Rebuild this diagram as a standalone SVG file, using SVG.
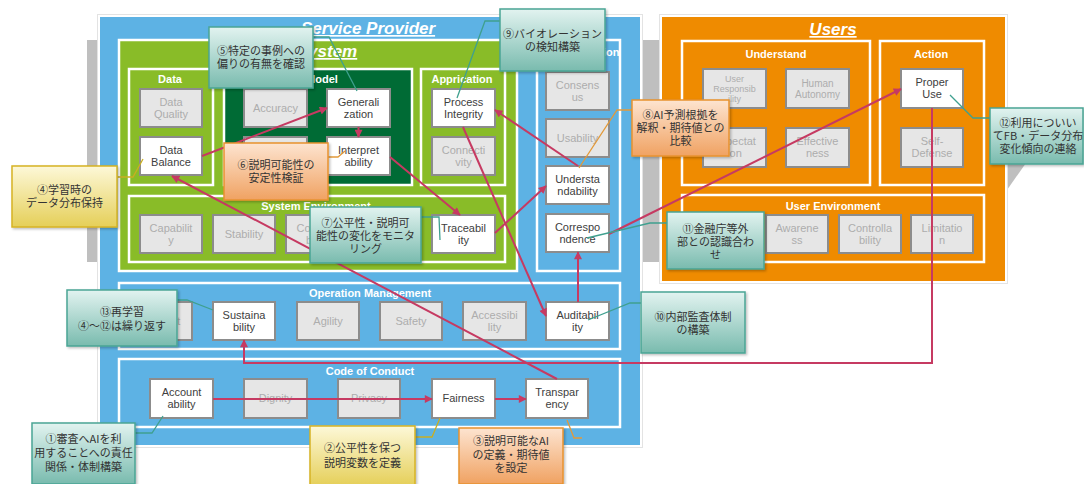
<svg xmlns="http://www.w3.org/2000/svg" width="1084" height="484" viewBox="0 0 1084 484">
<defs>
<style>
text{font-family:"Liberation Sans","Noto Sans CJK JP",sans-serif;}
.gb{fill:#e6e6e6;stroke:#8c8c8c;stroke-width:2}
.wb{fill:#fff;stroke:#8c8c8c;stroke-width:2}
.gt{font-size:11px;fill:#adadad;text-anchor:middle}
.wt{font-size:11px;fill:#404040;text-anchor:middle}
.ut{font-size:10px}
.ct{stroke:#fff;stroke-width:2.5}
.ttl{font-size:11px;font-weight:bold;fill:#fff;text-anchor:middle}
.big{font-size:17px;font-weight:bold;font-style:italic;fill:#fff;text-anchor:middle;text-decoration:underline}
.conn{stroke:#c63a62;stroke-width:2;fill:none;marker-end:url(#ah)}
.cT{fill:url(#gT);stroke:#4aa595;stroke-width:1.5;filter:url(#sh)}
.cO{fill:url(#gO);stroke:#e8922f;stroke-width:1.5;filter:url(#sh)}
.cY{fill:url(#gY);stroke:#d6b324;stroke-width:1.5;filter:url(#sh)}
.cx{font-size:11px;fill:#333;text-anchor:middle;font-family:"Noto Sans CJK JP","Liberation Sans",sans-serif}
.lT{stroke:#3fa08f;stroke-width:1.3;fill:none}
.lO{stroke:#e39a3a;stroke-width:1.3;fill:none}
.lY{stroke:#c9ae22;stroke-width:1.3;fill:none}
</style>
<marker id="ah" viewBox="0 0 10 10" refX="9" refY="5" markerWidth="9" markerHeight="8" markerUnits="userSpaceOnUse" orient="auto"><path d="M0,0 L10,5 L0,10 z" fill="#c63a62"/></marker>
<linearGradient id="gT" x1="0" y1="0" x2="0" y2="1"><stop offset="0" stop-color="#e2f3f0"/><stop offset="1" stop-color="#79bbae"/></linearGradient>
<linearGradient id="gO" x1="0" y1="0" x2="0" y2="1"><stop offset="0" stop-color="#fde4d0"/><stop offset="1" stop-color="#f0a262"/></linearGradient>
<linearGradient id="gY" x1="0" y1="0" x2="0" y2="1"><stop offset="0" stop-color="#fdf8d8"/><stop offset="1" stop-color="#e5cf58"/></linearGradient>
<filter id="sh" x="-10%" y="-10%" width="130%" height="130%"><feDropShadow dx="1.5" dy="1.5" stdDeviation="1.2" flood-color="#000" flood-opacity="0.25"/></filter>
</defs>
<rect width="1084" height="484" fill="#fff"/>

<!-- shelves -->
<rect x="87" y="40" width="10" height="222" fill="#bfbfbf"/>
<rect x="643" y="40" width="16" height="222" fill="#bfbfbf"/>
<polygon points="1007,163 1026,163 1007,190" fill="#bfbfbf"/>

<!-- Service Provider -->
<g id="service-provider">
<rect x="97.5" y="14.5" width="545" height="433" fill="#fff" stroke="#e3e3e3"/>
<rect x="100" y="17" width="540" height="428" fill="#5db2e4"/>
<text class="big" x="368" y="34">Service Provider</text>
</g>
<g id="system">
<rect x="119" y="40" width="398" height="231" fill="#89bc28" class="ct"/>
<text class="big" x="327" y="57">System</text>
</g>
<g id="data"><rect x="129" y="69" width="84" height="116" fill="none" class="ct"/><text class="ttl" x="170" y="83">Data</text></g>
<g id="model"><rect x="224" y="69" width="188" height="116" fill="#006b35" class="ct"/><text class="ttl" x="322" y="83">Model</text></g>
<g id="application"><rect x="421" y="69" width="84" height="116" fill="none" class="ct"/><text class="ttl" x="462" y="83">Apprication</text></g>
<g id="system-environment"><rect x="129" y="196" width="376" height="66" fill="none" class="ct"/><text class="ttl" x="316" y="210">System Environment</text></g>
<g id="communication"><rect x="537" y="40" width="83" height="231" fill="#5db2e4" class="ct"/><text class="ttl" x="578" y="56">Communication</text></g>
<g id="operation-management"><rect x="119" y="283" width="501" height="66" fill="none" class="ct"/><text class="ttl" x="370" y="297">Operation Management</text></g>
<g id="code-of-conduct"><rect x="119" y="359" width="501" height="68" fill="none" class="ct"/><text class="ttl" x="370" y="375">Code of Conduct</text></g>

<!-- Users -->
<g id="users">
<rect x="659.5" y="14.5" width="348" height="269" fill="#fff" stroke="#e3e3e3"/>
<rect x="662" y="17" width="343" height="264" fill="#ef8b00"/>
<text class="big" x="833" y="35">Users</text>
</g>
<g id="understand"><rect x="682" y="41" width="188" height="144" fill="none" class="ct"/><text class="ttl" x="776" y="58">Understand</text></g>
<g id="action"><rect x="880" y="41" width="104" height="144" fill="none" class="ct"/><text class="ttl" x="931" y="58">Action</text></g>
<g id="user-environment"><rect x="682" y="195" width="302" height="67" fill="none" class="ct"/><text class="ttl" x="833" y="210">User Environment</text></g>

<!-- Data nodes -->
<g id="data-quality"><rect class="gb" x="140" y="89" width="62" height="38"/><text class="gt"><tspan x="171" y="106">Data</tspan><tspan x="171" y="118">Quality</tspan></text></g>
<g id="data-balance"><rect class="wb" x="140" y="137" width="62" height="38"/><text class="wt"><tspan x="171" y="154">Data</tspan><tspan x="171" y="166">Balance</tspan></text></g>
<g id="accuracy"><rect class="gb" x="244" y="89" width="63" height="38"/><text class="gt" x="275.5" y="112">Accuracy</text></g>
<g id="model-hidden"><rect class="gb" x="244" y="137" width="63" height="38"/></g>
<g id="generalization"><rect class="wb" x="327" y="89" width="63" height="38"/><text class="wt"><tspan x="358.5" y="106">Generali</tspan><tspan x="358.5" y="118">zation</tspan></text></g>
<g id="interpretability"><rect class="wb" x="327" y="137" width="63" height="38"/><text class="wt"><tspan x="358.5" y="154">Interpret</tspan><tspan x="358.5" y="166">ability</tspan></text></g>
<g id="process-integrity"><rect class="wb" x="432" y="89" width="63" height="38"/><text class="wt"><tspan x="463.5" y="106">Process</tspan><tspan x="463.5" y="118">Integrity</tspan></text></g>
<g id="connectivity"><rect class="gb" x="432" y="137" width="63" height="38"/><text class="gt"><tspan x="463.5" y="154">Connecti</tspan><tspan x="463.5" y="166">vity</tspan></text></g>
<g id="capability"><rect class="gb" x="140" y="215" width="62" height="38"/><text class="gt"><tspan x="171" y="232">Capabilit</tspan><tspan x="171" y="244">y</tspan></text></g>
<g id="stability"><rect class="gb" x="213" y="215" width="62" height="38"/><text class="gt" x="244" y="238">Stability</text></g>
<g id="compatibility"><rect class="gb" x="286" y="215" width="62" height="38"/><text class="gt"><tspan x="317" y="232">Compati</tspan><tspan x="317" y="244">bility</tspan></text></g>
<g id="traceability"><rect class="wb" x="432" y="215" width="63" height="38"/><text class="wt"><tspan x="463.5" y="232">Traceabil</tspan><tspan x="463.5" y="244">ity</tspan></text></g>
<g id="consensus"><rect class="gb" x="546" y="72" width="63" height="38"/><text class="gt"><tspan x="577.5" y="89">Consens</tspan><tspan x="577.5" y="101">us</tspan></text></g>
<g id="usability"><rect class="gb" x="546" y="119" width="63" height="38"/><text class="gt" x="577.5" y="142">Usability</text></g>
<g id="understandability"><rect class="wb" x="546" y="166" width="63" height="38"/><text class="wt"><tspan x="577.5" y="183">Understa</tspan><tspan x="577.5" y="195">ndability</tspan></text></g>
<g id="correspondence"><rect class="wb" x="546" y="214" width="63" height="38"/><text class="wt"><tspan x="577.5" y="231">Correspo</tspan><tspan x="577.5" y="243">ndence</tspan></text></g>

<!-- Operation Management nodes -->
<g id="support"><rect class="gb" x="130" y="302" width="62" height="38"/><text class="gt" x="161" y="325">Support</text></g>
<g id="sustainability"><rect class="wb" x="213" y="302" width="62" height="38"/><text class="wt"><tspan x="244" y="319">Sustaina</tspan><tspan x="244" y="331">bility</tspan></text></g>
<g id="agility"><rect class="gb" x="297" y="302" width="62" height="38"/><text class="gt" x="328" y="325">Agility</text></g>
<g id="safety"><rect class="gb" x="380" y="302" width="62" height="38"/><text class="gt" x="411" y="325">Safety</text></g>
<g id="accessibility"><rect class="gb" x="463" y="302" width="63" height="38"/><text class="gt"><tspan x="494.5" y="319">Accessibi</tspan><tspan x="494.5" y="331">lity</tspan></text></g>
<g id="auditability"><rect class="wb" x="546" y="302" width="63" height="38"/><text class="wt"><tspan x="577.5" y="319">Auditabil</tspan><tspan x="577.5" y="331">ity</tspan></text></g>

<!-- Code of Conduct nodes -->
<g id="accountability"><rect class="wb" x="150" y="379" width="63" height="39"/><text class="wt"><tspan x="181.5" y="396">Account</tspan><tspan x="181.5" y="408">ability</tspan></text></g>
<g id="dignity"><rect class="gb" x="244" y="379" width="63" height="39"/><text class="gt" x="275.5" y="402">Dignity</text></g>
<g id="privacy"><rect class="gb" x="338" y="379" width="62" height="39"/><text class="gt" x="369" y="402">Privacy</text></g>
<g id="fairness"><rect class="wb" x="432" y="379" width="63" height="39"/><text class="wt" x="463.5" y="402">Fairness</text></g>
<g id="transparency"><rect class="wb" x="526" y="379" width="62" height="39"/><text class="wt"><tspan x="557" y="396">Transpar</tspan><tspan x="557" y="408">ency</tspan></text></g>

<!-- Users nodes -->
<g id="user-responsibility"><rect class="gb" x="703" y="69" width="63" height="39"/><text class="gt" style="font-size:9px"><tspan x="734.5" y="82">User</tspan><tspan x="734.5" y="92">Responsib</tspan><tspan x="734.5" y="102">ility</tspan></text></g>
<g id="human-autonomy"><rect class="gb" x="786" y="69" width="63" height="39"/><text class="gt ut"><tspan x="817.5" y="87">Human</tspan><tspan x="817.5" y="98">Autonomy</tspan></text></g>
<g id="expectation"><rect class="gb" x="703" y="128" width="63" height="39"/><text class="gt"><tspan x="734.5" y="145">Expectat</tspan><tspan x="734.5" y="157">ion</tspan></text></g>
<g id="effectiveness"><rect class="gb" x="786" y="128" width="63" height="39"/><text class="gt"><tspan x="817.5" y="145">Effective</tspan><tspan x="817.5" y="157">ness</tspan></text></g>
<g id="proper-use"><rect class="wb" x="901" y="69" width="62" height="39"/><text class="wt"><tspan x="932" y="86">Proper</tspan><tspan x="932" y="98">Use</tspan></text></g>
<g id="self-defense"><rect class="gb" x="901" y="128" width="62" height="39"/><text class="gt"><tspan x="932" y="145">Self-</tspan><tspan x="932" y="157">Defense</tspan></text></g>
<g id="user-env-hidden"><rect class="gb" x="694" y="215" width="62" height="38"/></g>
<g id="awareness"><rect class="gb" x="766" y="215" width="62" height="38"/><text class="gt"><tspan x="797" y="232">Awarene</tspan><tspan x="797" y="244">ss</tspan></text></g>
<g id="controllability"><rect class="gb" x="839" y="215" width="62" height="38"/><text class="gt"><tspan x="870" y="232">Controlla</tspan><tspan x="870" y="244">bility</tspan></text></g>
<g id="limitation"><rect class="gb" x="911" y="215" width="62" height="38"/><text class="gt"><tspan x="942" y="232">Limitatio</tspan><tspan x="942" y="244">n</tspan></text></g>

<!-- connectors -->
<g id="connectors">
<path class="conn" d="M213,399 H432"/>
<path class="conn" d="M495,399 H526"/>
<path class="conn" d="M557,379 L172,176"/>
<path class="conn" d="M202,156 L327,108"/>
<path class="conn" d="M358.5,127 V137"/>
<path class="conn" d="M390,157 L460,215"/>
<path class="conn" d="M495,233 L546,186"/>
<path class="conn" d="M578,166 L495,110"/>
<path class="conn" d="M463,127 L546,316"/>
<path class="conn" d="M578,302 V252"/>
<path class="conn" d="M609,234 L901,89"/>
<path class="conn" d="M932,108 V363 H244 V340"/>
</g>

<!-- callout leaders -->
<g id="leaders">
<polyline class="lT" points="313,37 329,37 357,91"/>
<polyline class="lT" points="500,21 485,21 457,98"/>
<polyline class="lO" points="632,110 617,110 579,168"/>
<polyline class="lO" points="328,157 338,157 345,151"/>
<polyline class="lY" points="117,177 133,177 143,159"/>
<polyline class="lT" points="421,217 439,217 440,240"/>
<polyline class="lT" points="667,223 650,223 587,238"/>
<polyline class="lT" points="641,303 630,303 588,320"/>
<polyline class="lT" points="990,118 973,118 950,95"/>
<polyline class="lT" points="177,300 187,300 213,310"/>
<polyline class="lT" points="135,433 152,433 163,416"/>
<polyline class="lY" points="415,437 432,437 440,418"/>
<polyline class="lO" points="567,420 574,438 582,438"/>
</g>

<!-- callouts -->
<g id="note5"><rect class="cT" x="209" y="27" width="104" height="61"/><text class="cx"><tspan x="261" y="55">⑤特定の事例への</tspan><tspan x="261" y="68">偏りの有無を確認</tspan></text></g>
<g id="note9"><rect class="cT" x="500" y="9" width="105" height="62"/><text class="cx"><tspan x="552.5" y="38">⑨バイオレーション</tspan><tspan x="552.5" y="51">の検知構築</tspan></text></g>
<g id="note8"><rect class="cO" x="632" y="100" width="97" height="56"/><text class="cx"><tspan x="680.5" y="119">⑧AI予測根拠を</tspan><tspan x="680.5" y="132">解釈・期待値との</tspan><tspan x="680.5" y="145">比較</tspan></text></g>
<g id="note6"><rect class="cO" x="224" y="143" width="104" height="57"/><text class="cx"><tspan x="276" y="169">⑥説明可能性の</tspan><tspan x="276" y="182">安定性検証</tspan></text></g>
<g id="note4"><rect class="cY" x="12" y="166" width="105" height="61"/><text class="cx"><tspan x="64.5" y="194">④学習時の</tspan><tspan x="64.5" y="207">データ分布保持</tspan></text></g>
<g id="note7"><rect class="cT" x="310" y="207" width="111" height="56"/><text class="cx"><tspan x="365.5" y="227">⑦公平性・説明可</tspan><tspan x="365.5" y="240">能性の変化をモニタ</tspan><tspan x="365.5" y="253">リング</tspan></text></g>
<g id="note11"><rect class="cT" x="667" y="212" width="97" height="57"/><text class="cx"><tspan x="715.5" y="233">⑪金融庁等外</tspan><tspan x="715.5" y="246">部との認識合わ</tspan><tspan x="715.5" y="259">せ</tspan></text></g>
<g id="note10"><rect class="cT" x="641" y="292" width="104" height="61"/><text class="cx"><tspan x="693" y="321">⑩内部監査体制</tspan><tspan x="693" y="334">の構築</tspan></text></g>
<g id="note12"><rect class="cT" x="990" y="108" width="93" height="56"/><text class="cx"><tspan x="1038" y="127">⑫利用についい</tspan><tspan x="1038" y="140">てFB・データ分布</tspan><tspan x="1038" y="153">変化傾向の連絡</tspan></text></g>
<g id="note13"><rect class="cT" x="67" y="290" width="110" height="56"/><text class="cx"><tspan x="122" y="316">⑬再学習</tspan><tspan x="122" y="330">④～⑫は繰り返す</tspan></text></g>
<g id="note1"><rect class="cT" x="32" y="423" width="103" height="61"/><text class="cx"><tspan x="83.5" y="443">①審査へAIを利</tspan><tspan x="83.5" y="457">用することへの責任</tspan><tspan x="83.5" y="471">関係・体制構築</tspan></text></g>
<g id="note2"><rect class="cY" x="310" y="426" width="105" height="60"/><text class="cx"><tspan x="362.5" y="452">②公平性を保つ</tspan><tspan x="362.5" y="467">説明変数を定義</tspan></text></g>
<g id="note3"><rect class="cO" x="459" y="428" width="104" height="56"/><text class="cx"><tspan x="511" y="445">③説明可能なAI</tspan><tspan x="511" y="459">の定義・期待値</tspan><tspan x="511" y="472">を設定</tspan></text></g>
</svg>
